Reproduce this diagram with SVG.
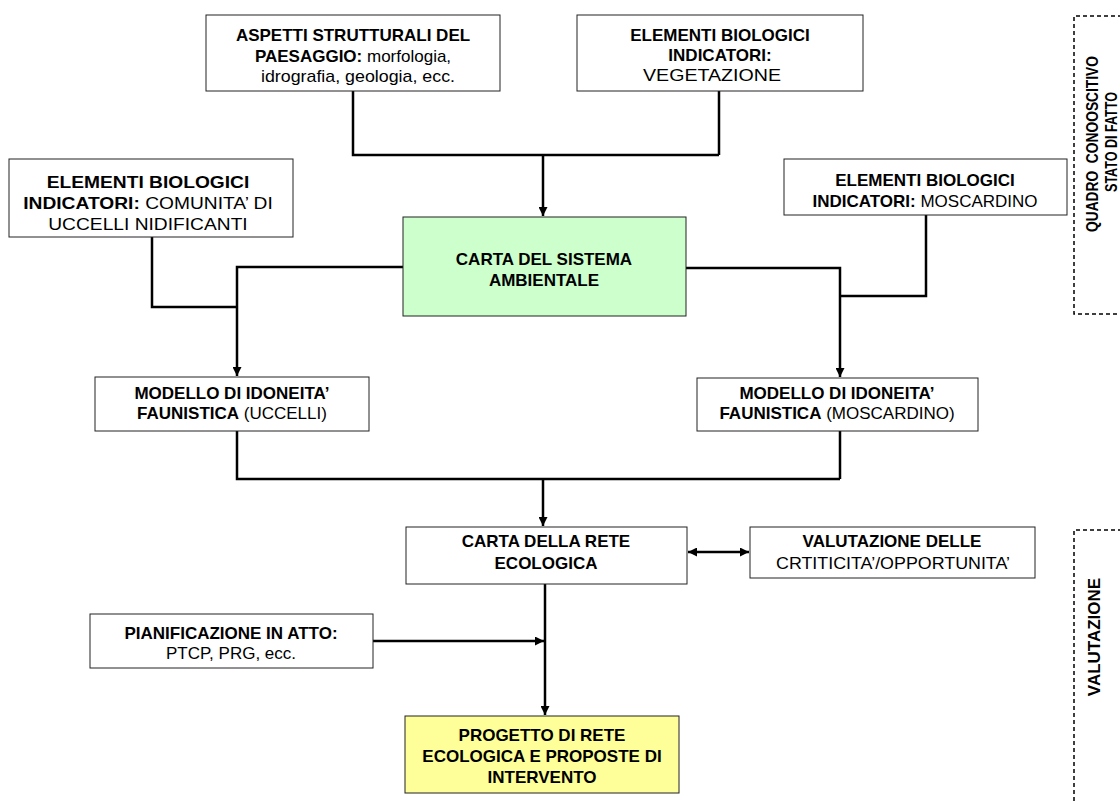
<svg xmlns="http://www.w3.org/2000/svg" width="1120" height="804" viewBox="0 0 1120 804">
<defs>
<marker id="ah" viewBox="0 0 10 10" refX="10" refY="5" markerWidth="9" markerHeight="9" markerUnits="userSpaceOnUse" orient="auto-start-reverse">
<path d="M0,0 L10,5 L0,10 z" fill="#000"/>
</marker>
<style>
.box{fill:#fff;stroke:#222;stroke-width:1}
.green{fill:#ccffcc}
.yellow{fill:#ffff99}
text{font-family:"Liberation Sans",Arial,sans-serif;font-size:17px;fill:#000;text-anchor:middle}
.b{font-weight:bold}
.side{font-size:16.5px}
.con{fill:none;stroke:#000;stroke-width:2.5}
.dash{fill:none;stroke:#000;stroke-width:1.5;stroke-dasharray:4 3}
</style>
</defs>
<rect width="1120" height="804" fill="#fff"/>

<g id="connectors">
<path class="con" d="M353,91 V155 H719 M719,91 V155"/>
<path class="con" d="M543,155 V216" marker-end="url(#ah)"/>
<path class="con" d="M152,237 V307 H237"/>
<path class="con" d="M403,267 H237 V376" marker-end="url(#ah)"/>
<path class="con" d="M926,215 V296 H840"/>
<path class="con" d="M686,268 H840 V377" marker-end="url(#ah)"/>
<path class="con" d="M237,431 V479 H840 M840,431 V479"/>
<path class="con" d="M543,479 V526" marker-end="url(#ah)"/>
<path class="con" d="M688,552 H749" marker-start="url(#ah)" marker-end="url(#ah)"/>
<path class="con" d="M545,584 V715" marker-end="url(#ah)"/>
<path class="con" d="M373,641 H544" marker-end="url(#ah)"/>
</g>

<g id="aspetti">
<rect class="box" x="206" y="15" width="294" height="76"/>
<text x="353" y="41" class="b">ASPETTI STRUTTURALI DEL</text>
<text x="353" y="62"><tspan class="b">PAESAGGIO:</tspan> morfologia,</text>
<text x="358" y="82" textLength="194" lengthAdjust="spacingAndGlyphs">idrografia, geologia, ecc.</text>
</g>

<g id="vegetazione">
<rect class="box" x="577" y="15" width="286" height="76"/>
<text x="720" y="41" class="b">ELEMENTI BIOLOGICI</text>
<text x="720" y="61" class="b">INDICATORI:</text>
<text x="712" y="81" textLength="138" lengthAdjust="spacingAndGlyphs">VEGETAZIONE</text>
</g>

<g id="uccelli">
<rect class="box" x="9" y="159" width="284" height="78"/>
<g transform="translate(148,0) scale(1.13,1) translate(-148,0)">
<text x="148" y="188" class="b">ELEMENTI BIOLOGICI</text>
<text x="148" y="209"><tspan class="b">INDICATORI:</tspan> COMUNITA’ DI</text>
<text x="148" y="230">UCCELLI NIDIFICANTI</text>
</g>
</g>

<g id="moscardino">
<rect class="box" x="784" y="159" width="283" height="56"/>
<text x="925" y="186" class="b">ELEMENTI BIOLOGICI</text>
<text x="925" y="207"><tspan class="b">INDICATORI:</tspan> MOSCARDINO</text>
</g>

<g id="sistema">
<rect class="box green" x="403" y="217" width="283" height="99"/>
<text x="544" y="265" class="b">CARTA DEL SISTEMA</text>
<text x="544" y="286" class="b">AMBIENTALE</text>
</g>

<g id="modello-uccelli">
<rect class="box" x="95" y="377" width="274" height="54"/>
<text x="232" y="399" class="b">MODELLO DI IDONEITA’</text>
<text x="232" y="419"><tspan class="b">FAUNISTICA</tspan> (UCCELLI)</text>
</g>

<g id="modello-moscardino">
<rect class="box" x="697" y="378" width="281" height="53"/>
<text x="837" y="399" class="b">MODELLO DI IDONEITA’</text>
<text x="837" y="419"><tspan class="b">FAUNISTICA</tspan> (MOSCARDINO)</text>
</g>

<g id="rete">
<rect class="box" x="406" y="527" width="281" height="57"/>
<text x="546" y="547" class="b">CARTA DELLA RETE</text>
<text x="546" y="569" class="b">ECOLOGICA</text>
</g>

<g id="valutazione">
<rect class="box" x="750" y="527" width="285" height="51"/>
<text x="892" y="547" class="b">VALUTAZIONE DELLE</text>
<text x="893" y="569" textLength="234" lengthAdjust="spacingAndGlyphs">CRTITICITA’/OPPORTUNITA’</text>
</g>

<g id="pianificazione">
<rect class="box" x="90" y="614" width="283" height="54"/>
<text x="231" y="639" class="b">PIANIFICAZIONE IN ATTO:</text>
<text x="231" y="659">PTCP, PRG, ecc.</text>
</g>

<g id="progetto">
<rect class="box yellow" x="405" y="716" width="274" height="77"/>
<text x="542" y="741" class="b">PROGETTO DI RETE</text>
<text x="542" y="762" class="b">ECOLOGICA E PROPOSTE DI</text>
<text x="542" y="783" class="b">INTERVENTO</text>
</g>

<g id="quadro">
<path class="dash" d="M1122,16 H1074 V314 H1122"/>
<text class="b side" transform="translate(1098,144) rotate(-90)" xml:space="preserve" textLength="176" lengthAdjust="spacingAndGlyphs">QUADRO  CONOOSCITIVO</text>
<text class="b side" transform="translate(1117,142) rotate(-90)" textLength="100" lengthAdjust="spacingAndGlyphs">STATO DI FATTO</text>
</g>

<g id="valutazione-fase">
<path class="dash" d="M1122,530 H1074 V806"/>
<text class="b" transform="translate(1100,637) rotate(-90)">VALUTAZIONE</text>
</g>
</svg>
